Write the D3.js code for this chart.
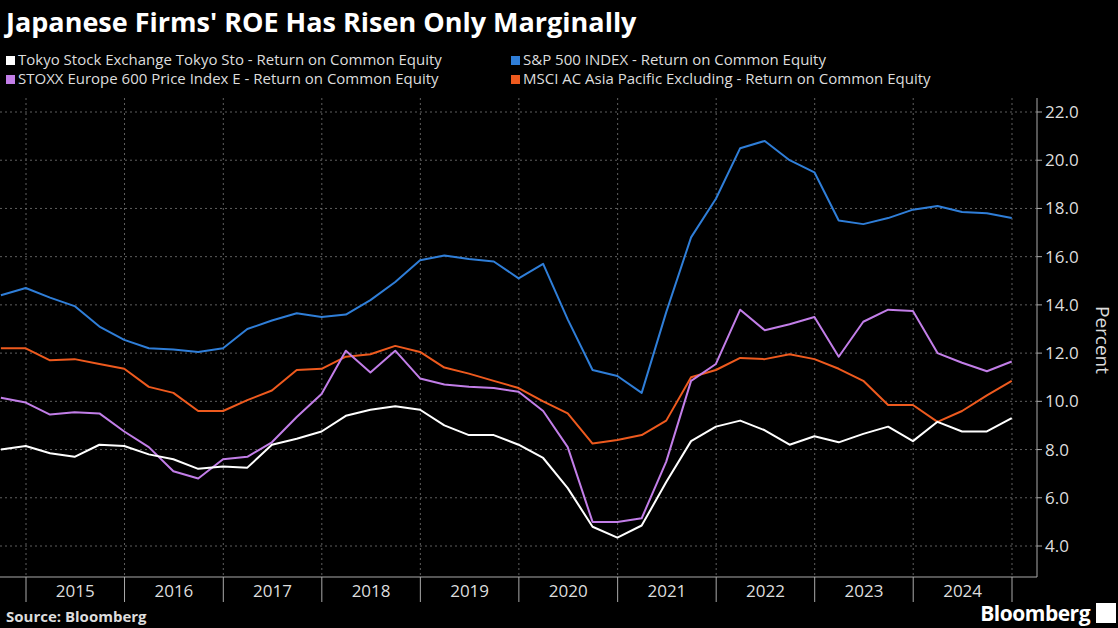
<!DOCTYPE html>
<html><head><meta charset="utf-8">
<script src="https://cdn.jsdelivr.net/npm/d3@7"></script>
<style>body{margin:0;background:#000;}svg{display:block;font-family:"Open Sans","Liberation Sans",sans-serif;}</style>
</head><body><svg id="c" width="1118" height="628"></svg>
<script>
const startQuarter = "2014-09-30";
const nQuarters = 42;
const seriesNames = ["Tokyo Stock Exchange Tokyo Sto - Return on Common Equity","S&P 500 INDEX - Return on Common Equity","STOXX Europe 600 Price Index E - Return on Common Equity","MSCI AC Asia Pacific Excluding - Return on Common Equity"];
const seriesColors = ["#ffffff","#2f7ed8","#c27ee8","#ee5a1e"];
const tokyo = [8.0,8.15,7.85,7.7,8.2,8.15,7.8,7.6,7.2,7.3,7.25,8.2,8.45,8.75,9.4,9.65,9.8,9.65,9.0,8.6,8.6,8.2,7.65,6.4,4.8,4.35,4.85,6.65,8.35,8.95,9.2,8.8,8.2,8.55,8.3,8.65,8.95,8.35,9.15,8.75,8.75,9.3];
const sp500 = [14.4,14.7,14.3,13.95,13.1,12.55,12.2,12.15,12.05,12.2,13.0,13.35,13.65,13.5,13.6,14.2,14.95,15.85,16.05,15.9,15.8,15.1,15.7,13.4,11.3,11.05,10.35,13.7,16.8,18.4,20.5,20.8,20.0,19.5,17.5,17.35,17.6,17.95,18.1,17.85,17.8,17.6];
const stoxx = [10.15,9.95,9.45,9.55,9.5,8.75,8.1,7.1,6.8,7.6,7.7,8.3,9.35,10.3,12.1,11.2,12.1,10.95,10.7,10.6,10.55,10.4,9.6,8.1,5.0,5.0,5.15,7.5,10.85,11.55,13.8,12.95,13.2,13.5,11.85,13.3,13.8,13.75,12.0,11.6,11.25,11.65];
const msci = [12.2,12.2,11.7,11.75,11.55,11.35,10.6,10.35,9.6,9.6,10.05,10.45,11.3,11.35,11.85,11.95,12.3,12.05,11.4,11.15,10.85,10.55,10.0,9.5,8.25,8.4,8.6,9.2,11.0,11.3,11.8,11.75,11.95,11.75,11.35,10.85,9.85,9.85,9.15,9.6,10.25,10.85];
const yTicks = [4,6,8,10,12,14,16,18,20,22];
const years = [2015,2016,2017,2018,2019,2020,2021,2022,2023,2024];

const svg = d3.select("#c");
const s0 = d3.timeParse("%Y-%m-%d")(startQuarter);
const dates = d3.range(nQuarters).map(i => d3.timeDay.offset(d3.timeMonth.offset(d3.timeDay.offset(s0,1), 3*i), -1));
const x = d3.scaleTime().domain([new Date(2015,0,1), new Date(2025,0,1)]).range([26,1012]);
const y = d3.scaleLinear().domain([4,22]).range([546,112]);
const plotTop = 98, plotBottom = 577, plotRight = 1037;

svg.append("text").attr("x",6).attr("y",32).attr("fill","#fff").attr("font-size",27).attr("font-weight","bold").text("Japanese Firms' ROE Has Risen Only Marginally");
const leg = [[0,6,65],[1,511,65],[2,6,84],[3,511,84]];
leg.forEach(([i,lx,ly])=>{
  svg.append("rect").attr("x",lx).attr("y",ly-9).attr("width",9).attr("height",9).attr("fill",seriesColors[i]);
  svg.append("text").attr("x",lx+12).attr("y",ly).attr("fill","#ddd").attr("font-size",15).text(seriesNames[i]);
});
yTicks.forEach(t=>svg.append("line").attr("x1",0).attr("x2",plotRight).attr("y1",y(t)).attr("y2",y(t)).attr("stroke","#777").attr("stroke-dasharray","2,3").attr("stroke-width",0.8));
const yb = years.map(v=>new Date(v,0,1)).concat([new Date(2025,0,1)]);
yb.forEach(d=>{
  svg.append("line").attr("x1",x(d)).attr("x2",x(d)).attr("y1",plotTop).attr("y2",plotBottom).attr("stroke","#777").attr("stroke-dasharray","2,3").attr("stroke-width",0.8);
  svg.append("line").attr("x1",x(d)).attr("x2",x(d)).attr("y1",plotBottom).attr("y2",602).attr("stroke","#aaa").attr("stroke-width",1);
});
svg.append("line").attr("x1",0).attr("x2",plotRight).attr("y1",plotBottom).attr("y2",plotBottom).attr("stroke","#aaa");
svg.append("line").attr("x1",plotRight).attr("x2",plotRight).attr("y1",plotTop).attr("y2",plotBottom).attr("stroke","#aaa");
yTicks.forEach(t=>{
  svg.append("line").attr("x1",plotRight).attr("x2",plotRight+5).attr("y1",y(t)).attr("y2",y(t)).attr("stroke","#aaa");
  svg.append("text").attr("x",plotRight+8).attr("y",y(t)+6).attr("fill","#ddd").attr("font-size",17).text(t.toFixed(1));
});
years.forEach(v=>svg.append("text").attr("x",(x(new Date(v,0,1))+x(new Date(v+1,0,1)))/2).attr("y",597).attr("text-anchor","middle").attr("fill","#ddd").attr("font-size",17).text(v));
svg.append("text").attr("transform","translate(1096,340) rotate(90)").attr("text-anchor","middle").attr("fill","#ddd").attr("font-size",19).text("Percent");
const line = d3.line().x((d,i)=>x(dates[i])).y(d=>y(d));
[[msci,3],[stoxx,2],[tokyo,0],[sp500,1]].forEach(([s,idx])=>{
  svg.append("path").attr("d",line(s)).attr("fill","none").attr("stroke",seriesColors[idx]).attr("stroke-width",2).attr("stroke-linejoin","round");
});
svg.append("text").attr("x",6).attr("y",622).attr("fill","#ddd").attr("font-size",15).attr("font-weight","bold").text("Source: Bloomberg");
svg.append("text").attr("x",1090).attr("y",621).attr("text-anchor","end").attr("fill","#fff").attr("font-size",21).attr("font-weight","bold").attr("letter-spacing","-0.5").text("Bloomberg");
svg.append("rect").attr("x",1096).attr("y",603).attr("width",20).attr("height",20).attr("fill","#fff");
</script></body></html>
